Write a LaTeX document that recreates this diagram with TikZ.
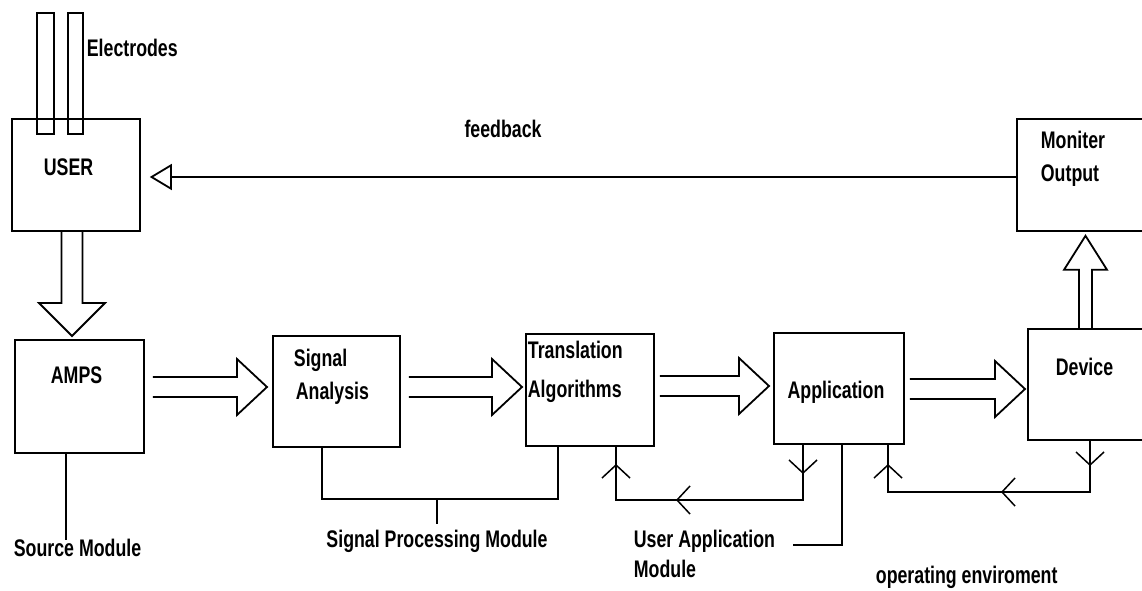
\documentclass[tikz,border=0pt]{standalone}
\usepackage{fontspec}
\setmainfont[FakeStretch=0.74]{Liberation Sans}
\usetikzlibrary{calc,arrows.meta}
\newcommand{\hollowright}[2]{%
  \draw ($(#1)+(0,-10)$) -- ($(#2)+(-30,-10)$) -- ($(#2)+(-30,-28)$) -- (#2)
        -- ($(#2)+(-30,28)$) -- ($(#2)+(-30,10)$) -- ($(#1)+(0,10)$);}
\begin{document}
\begin{tikzpicture}[x=1pt,y=-1pt,
  line width=1.8pt, line join=miter,
  box/.style={draw, rectangle, inner sep=0pt, anchor=north west},
  lbl/.style={font=\bfseries\fontsize{24}{28}\selectfont, inner sep=0pt, anchor=base west},
  barbdown/.pic={\draw[line width=1.5pt] (-14,-13) -- (0,0) -- (14,-13);},
  barbup/.pic={\draw[line width=1.5pt] (-14,13) -- (0,0) -- (14,13);},
  barbleft/.pic={\draw[line width=1.5pt] (13,-14) -- (0,0) -- (13,14);}]
\useasboundingbox (0,0) rectangle (1142,591);
\fill[white] (0,0) rectangle (1142,591);
\clip (0,0) rectangle (1142,591);

% boxes
\node[box, minimum width=128pt, minimum height=112pt] (user) at (11,118) {};
\node[box, minimum width=17pt, minimum height=121pt] (el1) at (36,12) {};
\node[box, minimum width=15pt, minimum height=121pt] (el2) at (67,12) {};
\node[box, minimum width=129pt, minimum height=113pt] (amps) at (14,339) {};
\node[box, minimum width=127pt, minimum height=111pt] (sa) at (272,335) {};
\node[box, minimum width=128pt, minimum height=112pt] (ta) at (525,333) {};
\node[box, minimum width=130pt, minimum height=111pt] (app) at (773,332) {};
\node[box, minimum width=140pt, minimum height=111pt] (dev) at (1027,328) {};
\node[box, minimum width=140pt, minimum height=112pt] (mon) at (1016,118) {};

% texts
\node[lbl] (telec) at (86,57) {Electrodes};
\node[lbl] (tuser) at (43,175) {USER};
\node[lbl] (tamps) at (50,383) {AMPS};
\node[lbl] (tsrc) at (13,556) {Source Module};
\node[lbl] (tsig) at (293,366) {Signal};
\node[lbl] (tana) at (295,399) {Analysis};
\node[lbl] (ttra) at (527,358) {Translation};
\node[lbl] (talg) at (527,397) {Algorithms};
\node[lbl, anchor=base] (tspm) at (437,547) {Signal Processing Module};
\node[lbl, anchor=base] (tapp) at (836,398) {Application};
\node[lbl] (tuam1) at (633,547) {User Application};
\node[lbl] (tuam2) at (633,577) {Module};
\node[lbl] (tope) at (875,583) {operating enviroment};
\node[lbl] (tdev) at (1055,375) {Device};
\node[lbl] (tmon1) at (1040,148) {Moniter};
\node[lbl] (tmon2) at (1040,181) {Output};
\node[lbl, anchor=base] (tfb) at (503,138) {feedback};

% feedback arrow
\path (user.east |- 0,177) ++(9,0) coordinate (fbtip);
\draw[-{Triangle[open,length=22pt,width=26pt]}] (mon.west |- 0,177) -- (fbtip);

% USER -> AMPS
\coordinate (uas) at (72,0 |- user.south);
\path (72,0 |- amps.north) ++(0,-3) coordinate (uat);
\draw ($(uas)+(-10.5,0)$) -- ($(uat)+(-10.5,-33)$) -- ($(uat)+(-33,-33)$) -- (uat)
      -- ($(uat)+(33,-33)$) -- ($(uat)+(10.5,-33)$) -- ($(uas)+(10.5,0)$);

% Device -> Monitor
\coordinate (dms) at (1085.5,0 |- dev.north);
\path (1085.5,0 |- mon.south) ++(0,4) coordinate (dmt);
\draw ($(dms)+(-6.5,0)$) -- ($(dmt)+(-6.5,34)$) -- ($(dmt)+(-21.5,34)$) -- (dmt)
      -- ($(dmt)+(21.5,34)$) -- ($(dmt)+(6.5,34)$) -- ($(dms)+(6.5,0)$);

% horizontal hollow arrows
\path (amps.east |- 0,387) ++(8,0) coordinate (h1s);
\path (sa.west |- 0,387) ++(-5,0) coordinate (h1t);
\hollowright{h1s}{h1t}
\path (sa.east |- 0,387) ++(8,0) coordinate (h2s);
\path (ta.west |- 0,387) ++(-3,0) coordinate (h2t);
\hollowright{h2s}{h2t}
\path (ta.east |- 0,386) ++(5,0) coordinate (h3s);
\path (app.west |- 0,386) ++(-4,0) coordinate (h3t);
\hollowright{h3s}{h3t}
\path (app.east |- 0,389) ++(5,0) coordinate (h4s);
\path (dev.west |- 0,389) ++(-2,0) coordinate (h4t);
\hollowright{h4s}{h4t}

% Source module
\draw (66,0 |- amps.south) -- (66,540);

% Signal processing module bracket
\draw (322,0 |- sa.south) -- (322,499) -- (558,499) -- (558,0 |- ta.south);
\draw (437,499) -- (tspm.north |- 0,524);

% App -> TA loop
\draw (803,0 |- app.south) -- (803,500) -- (616,500) -- (616,0 |- ta.south);
\pic at (803,473) {barbdown};
\pic at (677,500) {barbleft};
\pic at (616,465) {barbup};

% User application module line
\draw (842,0 |- app.south) -- (842,545) -- (793,545);

% Device -> App loop
\draw (1090,0 |- dev.south) -- (1090,492) -- (888,492) -- (888,0 |- app.south);
\pic at (1090,465) {barbdown};
\pic at (1002,492) {barbleft};
\pic at (888,465) {barbup};
\end{tikzpicture}
\end{document}
